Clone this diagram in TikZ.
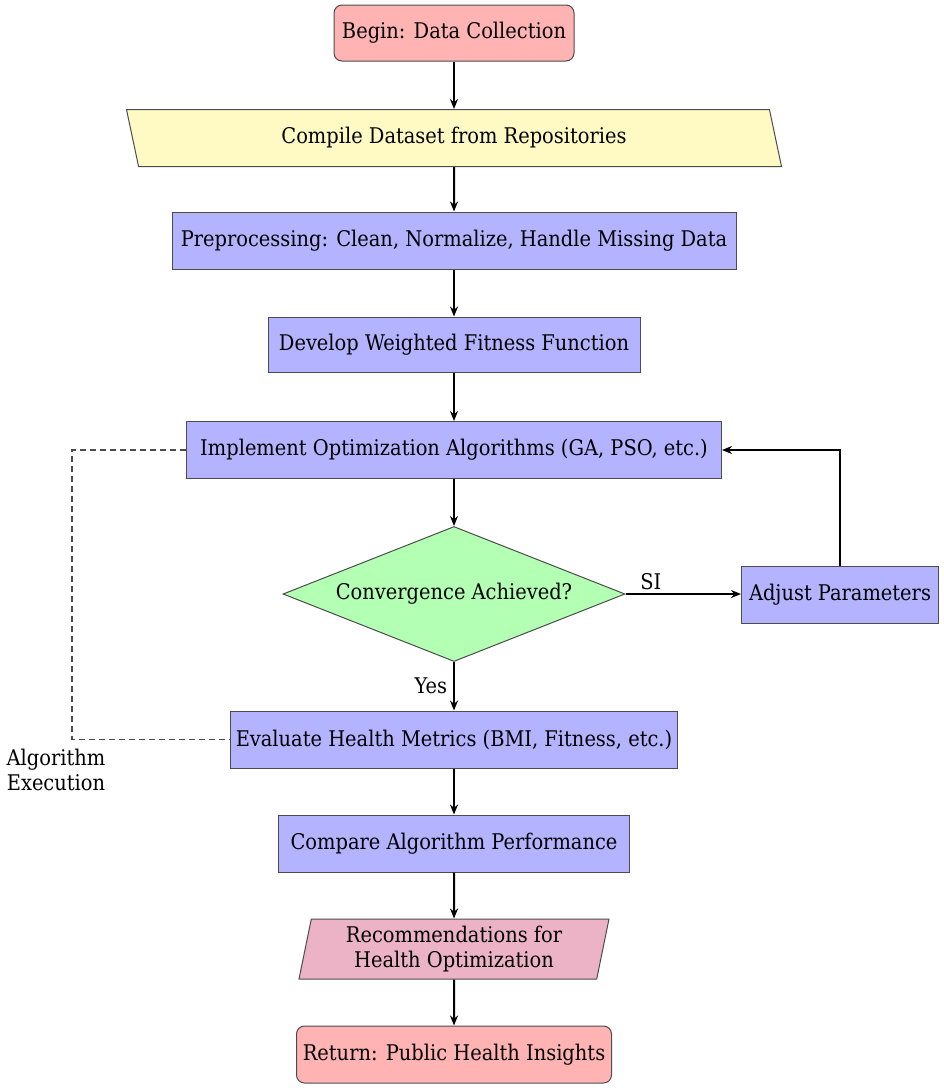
\documentclass[tikz,border=0pt]{standalone}
\usepackage{fontspec}
\setmainfont{DejaVu Serif Condensed}
\usetikzlibrary{shapes.geometric,arrows.meta}
\definecolor{pinkc}{HTML}{FFB3B3}
\definecolor{yellowc}{HTML}{FFF9C4}
\definecolor{bluec}{HTML}{B3B3FF}
\definecolor{greenc}{HTML}{B3FFB3}
\definecolor{purplec}{HTML}{ECB3C6}
\begin{document}
\begin{tikzpicture}[x=1pt,y=-1pt,
  txt/.style={font=\fontsize{21.6}{25}\selectfont},
  box/.style={txt, draw=black!70, line width=1pt, minimum height=57pt, inner sep=0pt},
  process/.style={box, rectangle, fill=bluec},
  terminal/.style={box, rectangle, rounded corners=8pt, fill=pinkc},
  flow/.style={line width=2pt, -{Stealth[length=10pt,width=8pt]}},
  dashline/.style={draw=black!70, line width=1.1pt, dash pattern=on 6pt off 4pt}
]
\useasboundingbox (0,0) rectangle (944,1088);

\node[terminal, minimum width=240pt, minimum height=56pt] (begin) at (454,33) {Begin: Data Collection};
\node[box, trapezium, trapezium left angle=120, trapezium right angle=60,
      trapezium stretches body, minimum width=655pt, fill=yellowc] (compile) at (454,138) {Compile Dataset from Repositories};
\node[process, minimum width=564pt] (prep) at (454,240.5) {Preprocessing: Clean, Normalize, Handle Missing Data};
\node[process, minimum width=372pt, minimum height=55pt] (develop) at (454,344.5) {Develop Weighted Fitness Function};
\node[process, minimum width=535pt] (impl) at (454,450) {Implement Optimization Algorithms (GA, PSO, etc.)};
\node[box, diamond, aspect=2.53, minimum width=342pt, minimum height=135pt, fill=greenc] (conv) at (454,594) {Convergence Achieved?};
\node[process, minimum width=197pt] (adjust) at (840,594.5) {Adjust Parameters};
\node[process, minimum width=447pt] (eval) at (454,739.5) {Evaluate Health Metrics (BMI, Fitness, etc.)};
\node[process, minimum width=351pt] (compare) at (454,843.5) {Compare Algorithm Performance};
\node[box, trapezium, trapezium left angle=75, trapezium right angle=105,
      trapezium stretches body, minimum width=310pt, minimum height=60pt, align=center, fill=purplec] (recom) at (454,949) {Recommendations for\\Health Optimization};
\node[terminal, minimum width=315pt] (ret) at (454,1054.5) {Return: Public Health Insights};

\draw[flow] (begin) -- (compile);
\draw[flow] (compile) -- (prep);
\draw[flow] (prep) -- (develop);
\draw[flow] (develop) -- (impl);
\draw[flow] (impl) -- (conv);
\draw[flow] (conv) -- node[txt, left, inner sep=6pt] (yes) {Yes} (eval);
\draw[flow] (conv.east) -- node[txt, above, pos=0.22, inner sep=3pt] (si) {SI} (conv.east -| adjust.west);
\draw[flow] (adjust.north) |- (impl.east);
\draw[flow] (eval) -- (compare);
\draw[flow] (compare) -- (recom);
\draw[flow] (recom) -- (ret);

\draw[dashline] (impl.west) -- ++(-114,0) coordinate (dc) |- (eval.west);
\node[txt, align=center, inner sep=0pt] (algexec) at (56,770) {Algorithm\\Execution};
\end{tikzpicture}
\end{document}
